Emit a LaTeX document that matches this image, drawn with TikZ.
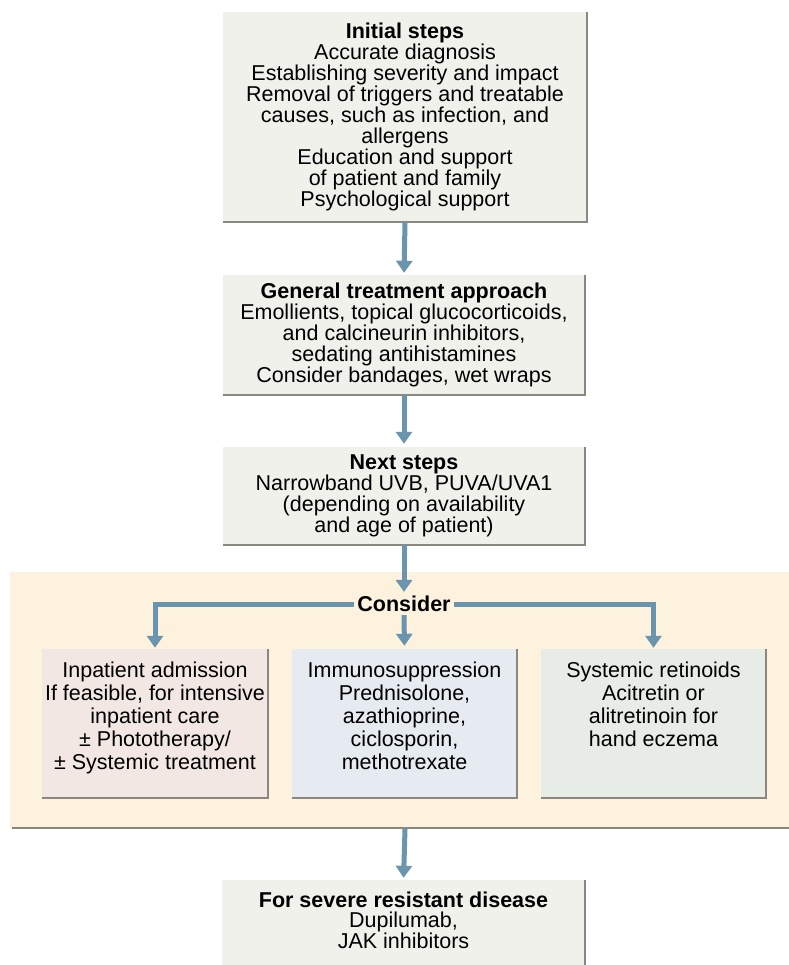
\documentclass[tikz,border=0pt]{standalone}
\usepackage{fontspec}
\setmainfont{Liberation Sans}
\usetikzlibrary{arrows.meta}
\definecolor{boxgray}{HTML}{F1F1EC}
\definecolor{boxpink}{HTML}{F2E7E3}
\definecolor{boxblue}{HTML}{E6EBF1}
\definecolor{boxgreen}{HTML}{E7ECE7}
\definecolor{zoneyellow}{HTML}{FCF2DE}
\definecolor{arrowblue}{HTML}{6B94AE}
\definecolor{shadowgray}{HTML}{8A8781}
\newcommand\topbox[3]{\parbox[c][#1][t]{#2}{\centering\fontsize{21.5}{23}\selectfont #3}}
\tikzset{
  flowbox/.style={fill=#1, inner sep=0pt, align=center},
  flowarrow/.style={draw=arrowblue, line width=5pt, -{Triangle[width=16pt,length=12pt]}},
  shade line/.style={draw=shadowgray, line width=2.2pt},
  headtext/.style={font=\bfseries}
}
\begin{document}
\begin{tikzpicture}[x=1pt,y=-1pt, font=\fontsize{21.5}{21}\selectfont]
\useasboundingbox (0,0) rectangle (788,965);
\fill[white] (0,0) rectangle (788,965);

% yellow zone
\fill[zoneyellow] (10,572) rectangle (790,828);
\draw[shade line] (12,828) -- (790,828);

% top boxes
\node[flowbox=boxgray, minimum width=364pt, minimum height=210pt] (init) at (405,117)
  {\textbf{Initial steps}\\Accurate diagnosis\\Establishing severity and impact\\Removal of triggers and treatable\\causes, such as infection, and\\allergens\\Education and support\\of patient and family\\Psychological support};
\node[flowbox=boxgray, minimum width=362pt, minimum height=120pt] (gen) at (404,335)
  {\textbf{General treatment approach}\\Emollients, topical glucocorticoids,\\and calcineurin inhibitors,\\sedating antihistamines\\Consider bandages, wet wraps};
\node[flowbox=boxgray, minimum width=362pt, minimum height=98pt] (next) at (404,496)
  {\textbf{Next steps}\\Narrowband UVB, PUVA/UVA1\\(depending on availability\\and age of patient)};

% consider label
\node[fill=zoneyellow, inner sep=3pt, font=\fontsize{21.5}{21}\selectfont\bfseries] (cons) at (404,604) {Consider};

% option boxes
\node[flowbox=boxpink] (inpat) at (155,723.5)
  {\topbox{149pt}{226pt}{\rule{0pt}{28pt}Inpatient admission\\If feasible, for intensive\\inpatient care\\± Phototherapy/\\± Systemic treatment}};
\node[flowbox=boxblue] (immuno) at (404.5,723.5)
  {\topbox{149pt}{225pt}{\rule{0pt}{28pt}Immunosuppression\\Prednisolone,\\azathioprine,\\ciclosporin,\\methotrexate}};
\node[flowbox=boxgreen] (retin) at (653.5,723.5)
  {\topbox{149pt}{225pt}{\rule{0pt}{28pt}Systemic retinoids\\Acitretin or\\alitretinoin for\\hand eczema}};

% bottom box (runs off the bottom edge)
\node[flowbox=boxgray] (severe) at (403.5,940)
  {\parbox[c][120pt][t]{363pt}{\centering\fontsize{21.5}{20}\selectfont\rule{0pt}{27pt}\textbf{For severe resistant disease}\\Dupilumab,\\JAK inhibitors}};

% shadows
\foreach \b in {init,gen,next,inpat,immuno,retin,severe}
  \draw[shade line] (\b.north east) -- (\b.south east) -- (\b.south west);

% arrows
\draw[flowarrow, shorten >=2pt] (init.south) -- (gen.north);
\draw[flowarrow, shorten >=3pt] (gen.south) -- (next.north);
\draw[flowarrow, shorten >=1pt] (next.south) -- (cons.north);
\draw[flowarrow, shorten >=3pt] (cons.south) -- (immuno.north);
\draw[flowarrow, shorten >=1pt] (cons.west) -| (inpat.north);
\draw[flowarrow, shorten >=1pt] (cons.east) -| (retin.north);
\coordinate (zb) at (405,829);
\draw[flowarrow, shorten >=2pt] (zb) -- (severe.north);
\end{tikzpicture}
\end{document}
